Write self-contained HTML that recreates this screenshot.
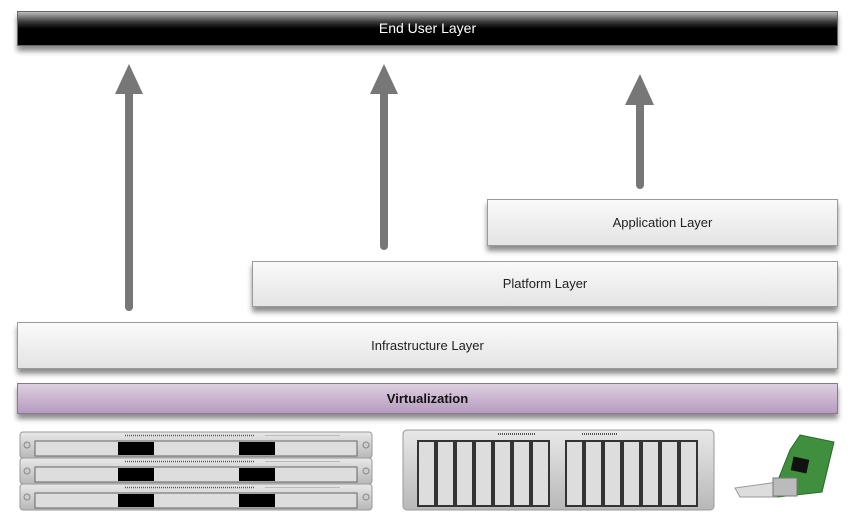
<!DOCTYPE html>
<html><head><meta charset="utf-8"><style>
html,body{margin:0;padding:0;background:#fff;}
body{width:854px;height:513px;overflow:hidden;position:relative;font-family:"Liberation Sans",Arial,sans-serif;}
.box{position:absolute;box-sizing:border-box;border:1px solid #9a9a9a;background:linear-gradient(#fafafa,#e4e4e4);box-shadow:0 5px 5px rgba(0,0,0,0.45);text-align:center;font-size:13px;color:#222;}
</style></head><body>
<div class="box" style="left:17px;top:11px;width:821px;height:35px;background:linear-gradient(#bdbdbd 0%,#3a3a3a 30%,#000 50%,#000 100%);border-color:#666;color:#fff;line-height:33px;font-size:14px;">End User Layer</div>
<div class="box" style="left:487px;top:199px;width:351px;height:47px;line-height:45px;">Application Layer</div>
<div class="box" style="left:252px;top:261px;width:586px;height:46px;line-height:44px;">Platform Layer</div>
<div class="box" style="left:17px;top:322px;width:821px;height:47px;line-height:45px;">Infrastructure Layer</div>
<div class="box" style="left:17px;top:383px;width:821px;height:31px;line-height:29px;background:linear-gradient(#dccfe0,#b79bc0);border-color:#8a7890;font-weight:bold;font-size:13px;color:#111;">Virtualization</div>
<svg width="854" height="513" style="position:absolute;left:0;top:0">
<defs>
<linearGradient id="rk" x1="0" y1="0" x2="0" y2="1"><stop offset="0" stop-color="#e8e8e8"/><stop offset="1" stop-color="#b8b8b8"/></linearGradient>
</defs>
<g fill="#777" stroke="#777" stroke-linecap="round">
<polygon points="129,64 115,94 143,94" stroke="none"/><line x1="129" y1="92" x2="129" y2="307" stroke-width="8"/>
<polygon points="384,64 370,94 398,94" stroke="none"/><line x1="384" y1="92" x2="384" y2="246" stroke-width="8"/>
<polygon points="640,74 625,105 654,105" stroke="none"/><line x1="640" y1="103" x2="640" y2="185" stroke-width="8"/>
</g>
<!-- servers -->
<g>
<g id="s1">
<rect x="20" y="432" width="352" height="26" rx="3" fill="url(#rk)" stroke="#999"/>
<rect x="35" y="441" width="322" height="15" fill="#ddd" stroke="#666"/>
<rect x="118" y="442" width="36" height="13" fill="#000"/>
<rect x="239" y="442" width="36" height="13" fill="#000"/>
<line x1="125" y1="435.5" x2="255" y2="435.5" stroke="#555" stroke-width="1.5" stroke-dasharray="1,1"/>
<line x1="265" y1="435.5" x2="340" y2="435.5" stroke="#bbb" stroke-width="1"/>
<circle cx="27" cy="445" r="3" fill="#ccc" stroke="#888"/><circle cx="366" cy="445" r="3" fill="#ccc" stroke="#888"/>
</g>
<use href="#s1" y="26"/>
<use href="#s1" y="52"/>
</g>
<!-- storage -->
<rect x="403" y="430" width="311" height="80" rx="4" fill="url(#rk)" stroke="#999"/>
<g fill="#ddd" stroke="#333" stroke-width="2">
<rect x="418" y="441" width="17" height="65"/><rect x="437" y="441" width="17" height="65"/><rect x="456" y="441" width="17" height="65"/><rect x="475" y="441" width="17" height="65"/><rect x="494" y="441" width="17" height="65"/><rect x="513" y="441" width="17" height="65"/><rect x="532" y="441" width="17" height="65"/>
<rect x="566" y="441" width="17" height="65"/><rect x="585" y="441" width="17" height="65"/><rect x="604" y="441" width="17" height="65"/><rect x="623" y="441" width="17" height="65"/><rect x="642" y="441" width="17" height="65"/><rect x="661" y="441" width="17" height="65"/><rect x="680" y="441" width="17" height="65"/>
</g>
<line x1="498" y1="434" x2="535" y2="434" stroke="#555" stroke-width="2" stroke-dasharray="1,1"/>
<line x1="582" y1="434" x2="618" y2="434" stroke="#555" stroke-width="2" stroke-dasharray="1,1"/>
<!-- card -->
<polygon points="735,488 778,482 778,497 740,497" fill="#ddd" stroke="#999"/>
<polygon points="800,435 834,442 822,492 778,497 778,480 790,450" fill="#3f8f3f" stroke="#2a6a2a"/>
<rect x="792" y="458" width="16" height="14" fill="#111" transform="rotate(12 800 465)"/>
<rect x="773" y="478" width="24" height="18" fill="#bbb" stroke="#777"/>
</svg>
</body></html>
